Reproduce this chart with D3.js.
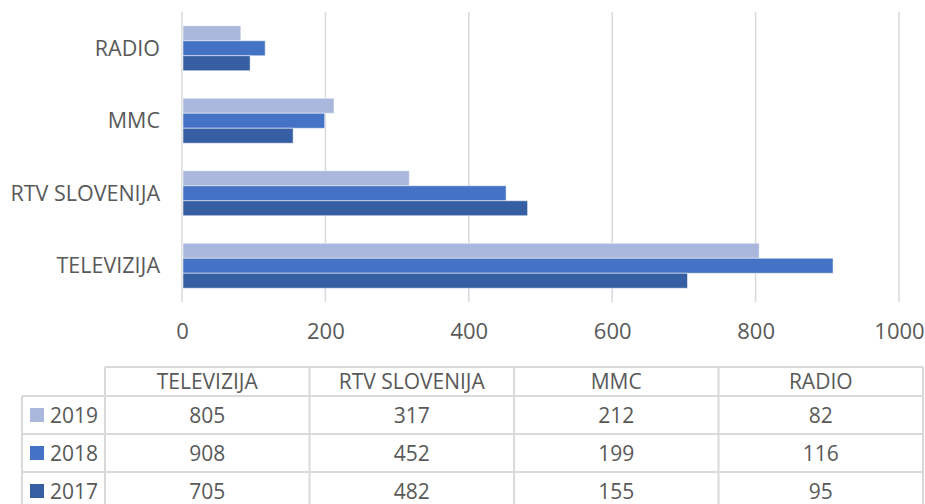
<!DOCTYPE html>
<html>
<head>
<meta charset="utf-8">
<script src="https://cdn.jsdelivr.net/npm/d3@7"></script>
<style>
  body { margin: 0; background: #fff; }
  text { font-family: "Open Sans", "Liberation Sans", Arial, sans-serif; fill: #595959; }
</style>
</head>
<body>
<svg id="chart"></svg>
<script>
// Data
const categories = ["TELEVIZIJA", "RTV SLOVENIJA", "MMC", "RADIO"];
const years = ["2019", "2018", "2017"];
const values2019 = [805, 317, 212, 82];
const values2018 = [908, 452, 199, 116];
const values2017 = [705, 482, 155, 95];
const xTicks = [0, 200, 400, 600, 800, 1000];
const colors = { "2019": "#A8B7DB", "2018": "#4472C4", "2017": "#365EA2" };

const seriesValues = { "2019": values2019, "2018": values2018, "2017": values2017 };

const width = 925, height = 504;
const svg = d3.select("#chart").attr("width", width).attr("height", height);

// Scales
const x = d3.scaleLinear().domain([0, 1000]).range([182, 899]);
const y = d3.scaleBand()
  .domain(categories.slice().reverse())
  .range([12, 302])
  .paddingInner(0.38)
  .paddingOuter(0.19);
const ySub = d3.scaleBand().domain(years).range([0, y.bandwidth()]);

// Grid lines
svg.append("g")
  .selectAll("line")
  .data(xTicks)
  .join("line")
  .attr("x1", d => x(d)).attr("x2", d => x(d))
  .attr("y1", 12).attr("y2", 302)
  .attr("stroke", "#D9D9D9")
  .attr("stroke-width", 1.5);

// Bars
const groups = svg.append("g")
  .selectAll("g")
  .data(categories)
  .join("g")
  .attr("transform", d => `translate(0,${y(d)})`);

groups.selectAll("rect")
  .data((c, i) => years.map(yr => ({ year: yr, value: seriesValues[yr][i] })))
  .join("rect")
  .attr("x", x(0) + 1)
  .attr("y", d => ySub(d.year))
  .attr("width", d => x(d.value) - x(0) - 1)
  .attr("height", ySub.bandwidth())
  .attr("fill", d => colors[d.year])
  .attr("stroke", "#fff")
  .attr("stroke-opacity", 0.5)
  .attr("stroke-width", 1);

// Category labels
svg.append("g")
  .selectAll("text")
  .data(categories)
  .join("text")
  .attr("x", 160)
  .attr("y", d => y(d) + y.bandwidth() / 2)
  .attr("dy", "0.36em")
  .attr("text-anchor", "end")
  .style("font-size", "21.5px")
  .text(d => d);

// X axis tick labels
const xAxis = d3.axisBottom(x).tickValues(xTicks).tickFormat(d3.format("d")).tickSize(0).tickPadding(0);
const axisG = svg.append("g")
  .attr("transform", "translate(0,323)")
  .call(xAxis);
axisG.select(".domain").remove();
axisG.selectAll("text")
  .attr("dy", "0.71em")
  .style("font-size", "22px")
  .style("font-family", "'Open Sans', 'Liberation Sans', Arial, sans-serif")
  .attr("fill", "#595959");

// Data table
const tableLeft = 105, tableRight = 923, labelLeft = 22;
const colX = d3.scaleBand().domain(categories).range([tableLeft, tableRight]);
const rowEdges = [367, 396, 434, 472, 510];
const lineColor = "#D9D9D9";
const table = svg.append("g");

// horizontal lines
table.append("line")
  .attr("x1", tableLeft).attr("x2", tableRight)
  .attr("y1", rowEdges[0]).attr("y2", rowEdges[0]);
rowEdges.slice(1).forEach(yy => {
  table.append("line")
    .attr("x1", labelLeft).attr("x2", tableRight)
    .attr("y1", yy).attr("y2", yy);
});
// vertical lines
table.append("line")
  .attr("x1", labelLeft).attr("x2", labelLeft)
  .attr("y1", rowEdges[1]).attr("y2", rowEdges[4]);
categories.forEach(c => {
  table.append("line")
    .attr("x1", colX(c)).attr("x2", colX(c))
    .attr("y1", rowEdges[0]).attr("y2", rowEdges[4]);
});
table.append("line")
  .attr("x1", tableRight).attr("x2", tableRight)
  .attr("y1", rowEdges[0]).attr("y2", rowEdges[4]);
table.selectAll("line").attr("stroke", lineColor).attr("stroke-width", 2);

// header
table.selectAll("text.head")
  .data(categories)
  .join("text")
  .attr("class", "head")
  .attr("x", d => colX(d) + colX.bandwidth() / 2)
  .attr("y", (rowEdges[0] + rowEdges[1]) / 2)
  .attr("dy", "0.36em")
  .attr("text-anchor", "middle")
  .style("font-size", "21px")
  .text(d => d);

// rows
years.forEach((yr, r) => {
  const cy = (rowEdges[r + 1] + rowEdges[r + 2]) / 2;
  table.append("rect")
    .attr("x", 30).attr("y", cy - 7)
    .attr("width", 14).attr("height", 14)
    .attr("fill", colors[yr]);
  table.append("text")
    .attr("x", 50).attr("y", cy)
    .attr("dy", "0.36em")
    .style("font-size", "21px")
    .text(yr);
  table.selectAll(null)
    .data(seriesValues[yr].map((v, i) => ({ cat: categories[i], value: v })))
    .join("text")
    .attr("x", d => colX(d.cat) + colX.bandwidth() / 2)
    .attr("y", cy)
    .attr("dy", "0.36em")
    .attr("text-anchor", "middle")
    .style("font-size", "21px")
    .text(d => d.value);
});
</script>
</body>
</html>
